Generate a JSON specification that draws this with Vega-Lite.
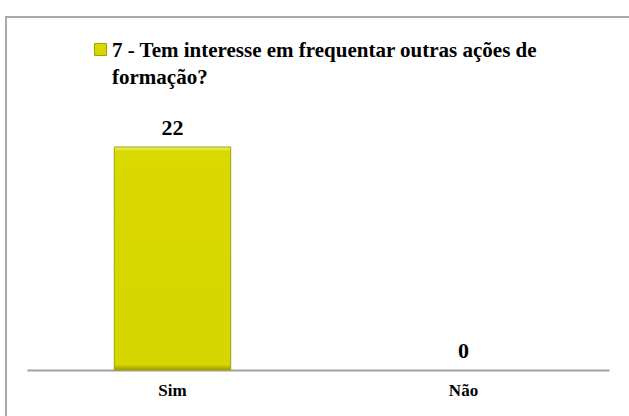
{
  "$schema": "https://vega.github.io/schema/vega-lite/v6.json",
  "width": 628,
  "height": 404,
  "autosize": {"type": "none"},
  "padding": {"left": 6, "top": 17, "right": -5, "bottom": -5},
  "background": "white",
  "config": {
    "view": {"stroke": "#a9a9a9", "strokeWidth": 2},
    "font": "Liberation Serif"
  },
  "title": {
    "text": ["7 - Tem interesse em frequentar outras ações de", "formação?"],
    "anchor": "start",
    "frame": "group",
    "orient": "top",
    "offset": -88,
    "dx": 106,
    "baseline": "alphabetic",
    "font": "Liberation Serif",
    "fontSize": 21,
    "fontWeight": "bold",
    "color": "#000000",
    "lineHeight": 27
  },
  "data": {
    "values": [
      {"resposta": "Sim", "valor": 22, "serie": "7 - Tem interesse em frequentar outras ações de formação?"},
      {"resposta": "Não", "valor": 0, "serie": "7 - Tem interesse em frequentar outras ações de formação?"}
    ]
  },
  "encoding": {
    "x": {
      "field": "resposta",
      "type": "nominal",
      "sort": ["Sim", "Não"],
      "scale": {"range": [21, 603], "paddingInner": 0.6, "paddingOuter": 0.3},
      "axis": {
        "title": null,
        "orient": "bottom",
        "offset": -51,
        "domainColor": "#a0a0a0",
        "domainWidth": 2,
        "ticks": false,
        "labelAngle": 0,
        "labelPadding": 12,
        "labelFont": "Liberation Serif",
        "labelFontSize": 17,
        "labelFontWeight": "bold",
        "labelColor": "#000000",
        "grid": false
      }
    },
    "y": {
      "field": "valor",
      "type": "quantitative",
      "scale": {"domain": [0, 22], "range": [353, 130], "nice": false},
      "axis": null
    }
  },
  "layer": [
    {
      "transform": [{"filter": "datum.valor > 0"}],
      "mark": {
        "type": "bar",
        "strokeWidth": 1,
        "fill": {"gradient": "linear", "x1": 0, "y1": 0, "x2": 0, "y2": 1,
          "stops": [
            {"offset": 0, "color": "#f2f27a"},
            {"offset": 0.02, "color": "#d9d900"},
            {"offset": 0.975, "color": "#d6d600"},
            {"offset": 1, "color": "#9c9c00"}
          ]}
      },
      "encoding": {
        "stroke": {
          "field": "serie",
          "type": "nominal",
          "scale": {"range": ["#a3a300"]},
          "legend": {
            "orient": "none",
            "legendX": 88,
            "legendY": 26,
            "title": null,
            "symbolType": "square",
            "symbolSize": 144,
            "symbolFillColor": "#d9d900",
            "symbolStrokeWidth": 1,
            "labelExpr": "''",
            "labelFontSize": 1,
            "padding": 0
          }
        }
      }
    },
    {
      "mark": {
        "type": "text",
        "baseline": "alphabetic",
        "dy": -12,
        "font": "Liberation Serif",
        "fontSize": 22,
        "fontWeight": "bold",
        "color": "#000000"
      },
      "encoding": {
        "text": {"field": "valor", "type": "quantitative"}
      }
    }
  ]
}
